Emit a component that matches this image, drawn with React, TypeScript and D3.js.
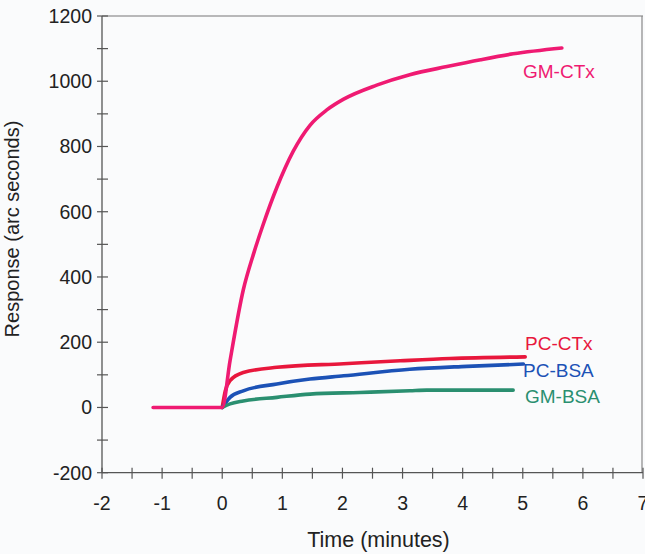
import React from "react";
import * as d3 from "d3";

const xTickLabels = [-2, -1, 0, 1, 2, 3, 4, 5, 6, 7];
const yTickLabels = [-200, 0, 200, 400, 600, 800, 1000, 1200];

const gmCtxT = [-1.15, 0, 0.13, 0.35, 0.52, 0.68, 0.91, 1.18, 1.46, 1.74, 2.02, 2.57, 3.12, 3.74, 4.3, 4.84, 5.65];
const gmCtxV = [0, 0, 143, 360, 470, 560, 675, 785, 865, 912, 945, 988, 1020, 1045, 1066, 1084, 1102];

const pcCtxT = [0, 0.05, 0.13, 0.35, 0.91, 2.02, 2.96, 3.79, 5.04];
const pcCtxV = [0, 50, 82, 107, 123, 134, 143, 150, 155];

const pcBsaT = [0, 0.13, 0.35, 0.91, 1.46, 2.02, 3.12, 4.07, 5.01];
const pcBsaV = [0, 31, 51, 72, 87, 97, 117, 126, 133];

const gmBsaT = [0, 0.13, 0.35, 0.91, 1.46, 2.29, 3.12, 3.4, 4.84];
const gmBsaV = [0, 11, 20, 31, 41, 46, 51, 53, 53];

const seriesNames = ["PC-CTx", "PC-BSA", "GM-BSA", "GM-CTx"];

const W = 645;
const H = 554;
const L = 102, R = 643, T = 16, B = 472.7;
const font = "'Liberation Sans', Arial, sans-serif";

export default function App() {
  const x = d3.scaleLinear().domain([-2, 7]).range([L, R]);
  const y = d3.scaleLinear().domain([-200, 1200]).range([B, T]);
  const line = d3
    .line<[number, number]>()
    .x((d) => x(d[0]))
    .y((d) => y(d[1]))
    .curve(d3.curveMonotoneX);

  const series = [
    { name: seriesNames[0], t: pcCtxT, v: pcCtxV, color: "#e8173c", lx: 525, ly: 350 },
    { name: seriesNames[1], t: pcBsaT, v: pcBsaV, color: "#1c52b6", lx: 523, ly: 377 },
    { name: seriesNames[2], t: gmBsaT, v: gmBsaV, color: "#2a8f70", lx: 525, ly: 403 },
    { name: seriesNames[3], t: gmCtxT, v: gmCtxV, color: "#ef1a72", lx: 523, ly: 78 },
  ];

  const xMinor = d3.range(-2, 7.01, 0.5);
  const yMinor = d3.range(-200, 1201, 100);

  return (
    <svg
      width={W}
      height={H}
      style={{ position: "absolute", left: 0, top: 0, display: "block" }}
    >
      <rect x={0} y={0} width={W} height={H} fill="#fafbfc" />
      {/* frame */}
      <line x1={L} y1={T} x2={R} y2={T} stroke="#777" strokeWidth={1.2} />
      <line x1={R - 1} y1={T} x2={R - 1} y2={B} stroke="#888" strokeWidth={1.2} />
      <line x1={L} y1={T} x2={L} y2={B} stroke="#555" strokeWidth={1.3} />
      <line x1={L} y1={B} x2={R} y2={B} stroke="#555" strokeWidth={1.3} />
      {/* ticks */}
      {yMinor.map((v) => (
        <line key={"yt" + v} x1={L - 5} x2={L + 6} y1={y(v)} y2={y(v)} stroke="#555" strokeWidth={1.2} />
      ))}
      {xMinor.map((v) => (
        <line key={"xt" + v} x1={x(v)} x2={x(v)} y1={B - 5} y2={B + 6} stroke="#555" strokeWidth={1.2} />
      ))}
      {yTickLabels.map((v) => (
        <text
          key={"yl" + v}
          x={92}
          y={y(v) + 6.8}
          textAnchor="end"
          fontFamily={font}
          fontSize={19.5}
          fill="#222"
        >
          {v}
        </text>
      ))}
      {xTickLabels.map((v) => (
        <text
          key={"xl" + v}
          x={x(v)}
          y={510}
          textAnchor="middle"
          fontFamily={font}
          fontSize={19.5}
          fill="#222"
        >
          {v}
        </text>
      ))}
      <text x={378.5} y={546.5} textAnchor="middle" fontFamily={font} fontSize={21.5} fill="#222">
        Time (minutes)
      </text>
      <text
        transform={`translate(18.5,229) rotate(-90)`}
        textAnchor="middle"
        fontFamily={font}
        fontSize={20}
        fill="#222"
      >
        Response (arc seconds)
      </text>
      {series.map((s) => (
        <path
          key={s.name}
          d={line(s.t.map((t, i) => [t, s.v[i]] as [number, number])) || ""}
          fill="none"
          stroke={s.color}
          strokeWidth={3.6}
          strokeLinejoin="round"
          strokeLinecap="round"
        />
      ))}
      {series.map((s) => (
        <text key={"lab" + s.name} x={s.lx} y={s.ly} fontFamily={font} fontSize={19} fill={s.color}>
          {s.name}
        </text>
      ))}
    </svg>
  );
}
